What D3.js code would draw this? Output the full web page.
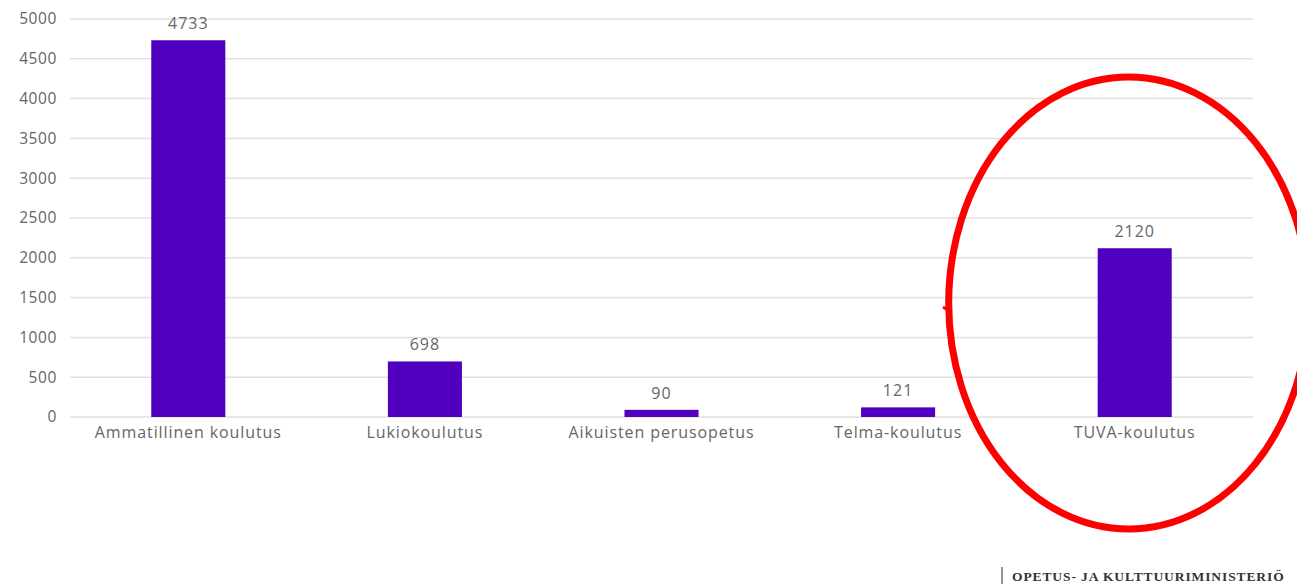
<!DOCTYPE html>
<html>
<head>
<meta charset="utf-8">
<script src="https://cdn.jsdelivr.net/npm/d3@7"></script>
<style>
  body { margin: 0; background: #fff; }
  svg { display: block; }
  svg text { font-family: "Open Sans", "Lato", sans-serif; }
</style>
</head>
<body>
<svg width="1297" height="586"></svg>
<script>
var categories = ["Ammatillinen koulutus", "Lukiokoulutus", "Aikuisten perusopetus", "Telma-koulutus", "TUVA-koulutus"];
var values = [4733, 698, 90, 121, 2120];
var yTicks = [0, 500, 1000, 1500, 2000, 2500, 3000, 3500, 4000, 4500, 5000];

var svg = d3.select("svg"),
  width = +svg.attr("width"),
  height = +svg.attr("height");

var x = d3.scaleBand()
  .domain(categories)
  .range([70, 1253])
  .paddingInner(0.687)
  .paddingOuter(0.3435);

var y = d3.scaleLinear()
  .domain([0, 5000])
  .range([417, 19]);

// gridlines
svg.append("g")
  .selectAll("line")
  .data(yTicks)
  .enter().append("line")
  .attr("x1", 70)
  .attr("x2", 1253)
  .attr("y1", function(d) { return y(d); })
  .attr("y2", function(d) { return y(d); })
  .attr("stroke", "#e0e0e0")
  .attr("stroke-width", 1.5);

// y axis labels
var yAxis = svg.append("g")
  .attr("transform", "translate(57,0)")
  .call(d3.axisLeft(y).tickValues(yTicks).tickFormat(d3.format("d")).tickSize(0).tickPadding(0));
yAxis.select(".domain").remove();
yAxis.selectAll("text")
  .attr("fill", "#666")
  .style("font-size", "15.5px")
  .style("letter-spacing", "0.6px");

// x axis labels
var xAxis = svg.append("g")
  .attr("transform", "translate(0,427)")
  .call(d3.axisBottom(x).tickSize(0).tickPadding(0));
xAxis.select(".domain").remove();
xAxis.selectAll("text")
  .attr("fill", "#666")
  .style("font-size", "16px")
  .style("letter-spacing", "0.9px");

// bars
svg.append("g")
  .selectAll("rect")
  .data(values)
  .enter().append("rect")
  .attr("x", function(d, i) { return x(categories[i]); })
  .attr("width", x.bandwidth())
  .attr("y", function(d) { return y(d); })
  .attr("height", function(d) { return y(0) - y(d); })
  .attr("fill", "#5000be");

// value labels
svg.append("g")
  .selectAll("text")
  .data(values)
  .enter().append("text")
  .attr("x", function(d, i) { return x(categories[i]) + x.bandwidth() / 2; })
  .attr("y", function(d) { return y(d) - 11; })
  .attr("text-anchor", "middle")
  .attr("fill", "#666")
  .style("font-size", "16px")
  .style("letter-spacing", "1px")
  .text(function(d) { return d; });

// red highlight ellipse
svg.append("ellipse")
  .attr("cx", x("TUVA-koulutus") + x.bandwidth() / 2 - 6)
  .attr("cy", 303)
  .attr("rx", 180)
  .attr("ry", 226)
  .attr("fill", "none")
  .attr("stroke", "#ff0000")
  .attr("stroke-width", 7);

// small stroke start mark on the left of the ellipse
svg.append("path")
  .attr("d", "M943,307 L951,312")
  .attr("stroke", "#ff0000")
  .attr("stroke-width", 3);

// footer
svg.append("line")
  .attr("x1", 1002).attr("x2", 1002)
  .attr("y1", 567).attr("y2", 584)
  .attr("stroke", "#333")
  .attr("stroke-width", 1);

svg.append("text")
  .attr("x", 1012)
  .attr("y", 581)
  .attr("fill", "#333")
  .style("font-family", "'Liberation Serif', serif")
  .style("font-weight", "bold")
  .style("font-size", "13.5px")
  .style("letter-spacing", "0.9px")
  .text("OPETUS- JA KULTTUURIMINISTERIÖ");
</script>
</body>
</html>
